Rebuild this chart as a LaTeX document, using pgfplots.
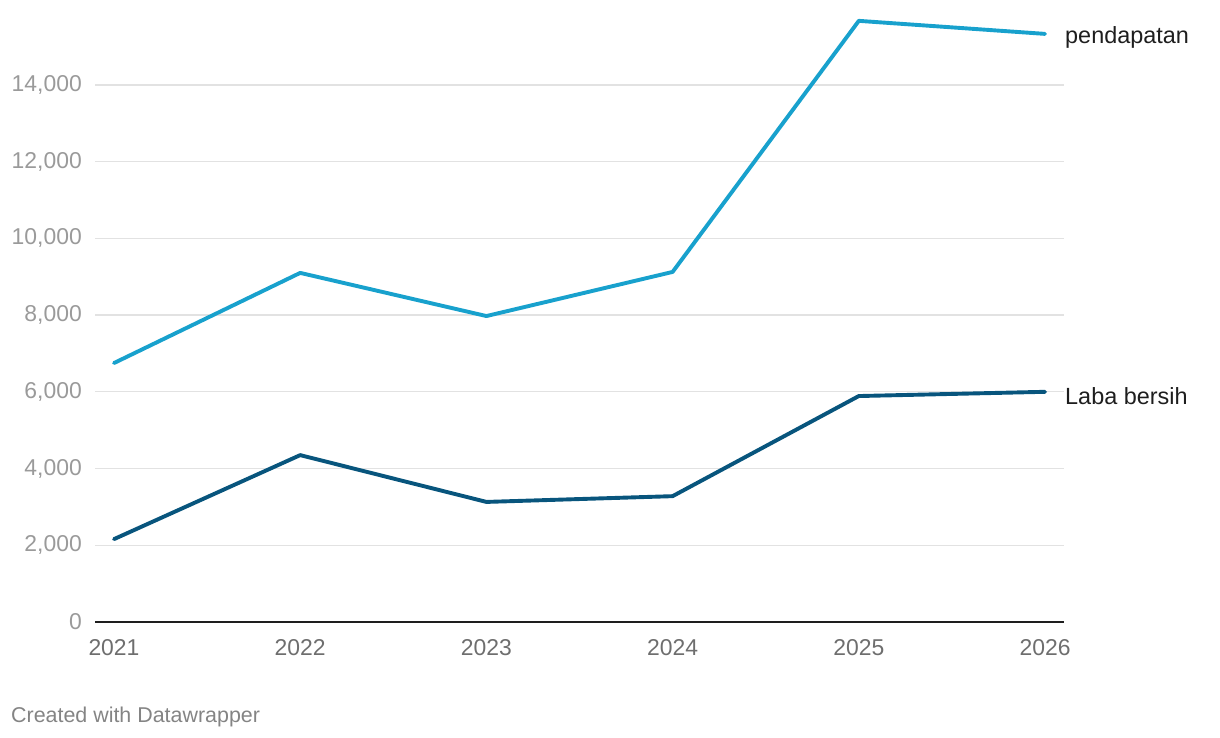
\documentclass[border=0pt]{standalone}
\usepackage{fontspec}
\setmainfont{Liberation Sans}
\usepackage{pgfplots}
\pgfplotsset{compat=1.18}
\definecolor{lightblue}{HTML}{18A1CD}
\definecolor{darkblue}{HTML}{08557D}
\definecolor{gridgray}{HTML}{E2E2E2}
\definecolor{ytickgray}{HTML}{9A9A9A}
\definecolor{xtickgray}{HTML}{6E6E6E}
\definecolor{labelblack}{HTML}{1E1E1E}
\begin{document}
\begin{tikzpicture}
\useasboundingbox (0,0) rectangle (1220bp,738bp);
\begin{axis}[
  at={(95bp,116bp)}, anchor=south west,
  scale only axis,
  width=969bp, height=613.8bp,
  xmin=2020.898, xmax=2026.102,
  ymin=0, ymax=16000,
  axis line style={draw=none},
  xtick={2021,2022,2023,2024,2025,2026},
  ytick={0,2000,4000,6000,8000,10000,12000,14000},
  xticklabels={2021,2022,2023,2024,2025,2026},
  major tick length=0pt,
  ymajorgrids=true,
  grid style={gridgray, line width=1.3bp},
  scaled ticks=false,
  /pgf/number format/assume math mode=true,
  /pgf/number format/1000 sep={,},
  yticklabel style={font=\fontsize{23}{27}\selectfont, text=ytickgray, anchor=east, inner sep=0pt, xshift=-13bp},
  xticklabel style={font=\fontsize{23}{27}\selectfont, text=xtickgray, anchor=north, inner sep=0pt, yshift=-17bp},
  clip=false,
]
\draw[labelblack, line width=2bp] (axis cs:2020.898,0) -- (axis cs:2026.102,0);
\addplot[lightblue, line width=3.9bp, line join=round, line cap=round] coordinates {
  (2021,6750) (2022,9100) (2023,7975) (2024,9125) (2025,15670) (2026,15330)
};
\addplot[darkblue, line width=3.9bp, line join=round, line cap=round] coordinates {
  (2021,2160) (2022,4350) (2023,3130) (2024,3280) (2025,5890) (2026,6000)
};
\node[anchor=west, inner sep=0pt, text=labelblack, font=\fontsize{23.5}{28}\selectfont, xshift=20bp, yshift=-4bp] at (axis cs:2026,15330) {pendapatan};
\node[anchor=west, inner sep=0pt, text=labelblack, font=\fontsize{23.5}{28}\selectfont, xshift=20bp, yshift=-4bp] at (axis cs:2026,6000) {Laba bersih};
\end{axis}
\node[anchor=base west, inner sep=0pt, text=xtickgray!85, font=\fontsize{21.5}{26}\selectfont] at (11bp,16bp) {Created with Datawrapper};
\end{tikzpicture}
\end{document}
